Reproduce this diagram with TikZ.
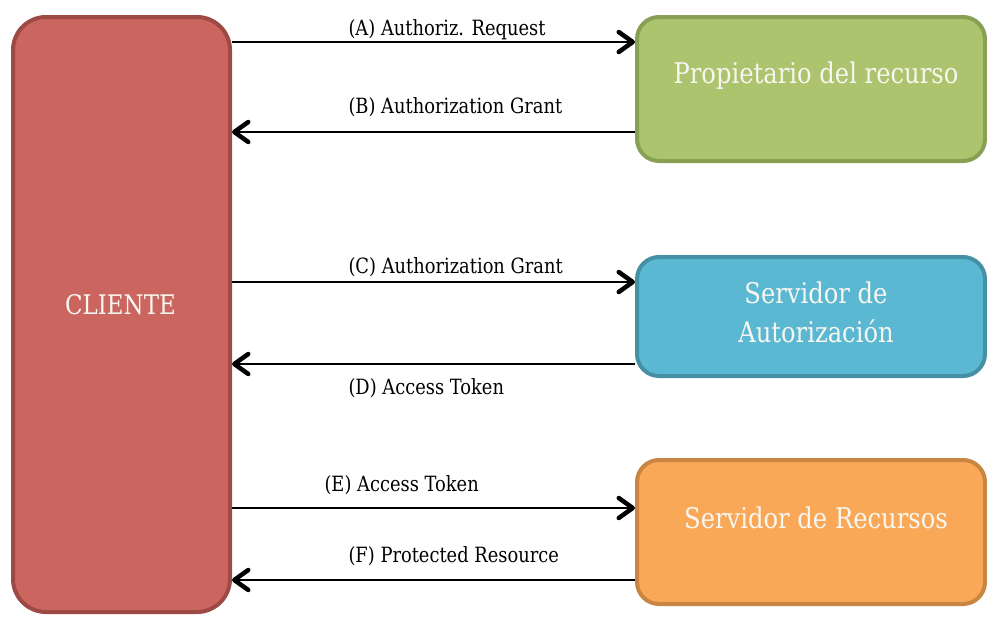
\documentclass[tikz,border=0pt]{standalone}
\usepackage{fontspec}
\setmainfont{DejaVu Serif}[FakeStretch=0.85]
\usetikzlibrary{arrows.meta}
\definecolor{clientfill}{HTML}{CB655F}
\definecolor{clientline}{HTML}{9D4A45}
\definecolor{ownerfill}{HTML}{ABC46D}
\definecolor{ownerline}{HTML}{87A053}
\definecolor{authfill}{HTML}{5BB8D2}
\definecolor{authline}{HTML}{4690A5}
\definecolor{resfill}{HTML}{F9A857}
\definecolor{resline}{HTML}{C98642}
\definecolor{boxtext}{HTML}{F8F6F0}

\begin{document}
\begin{tikzpicture}[x=1pt,y=-1pt,
  actor/.style={draw, line width=4pt, inner sep=0pt},
  boxlabel/.style={text=boxtext, font=\fontsize{28.5}{39}\selectfont, align=center, anchor=base},
  msg/.style={line width=2.5pt, -{Straight Barb[length=14pt,width=20pt,line width=4.5pt,round]}},
  msglabel/.style={font=\fontsize{21}{24}\selectfont, anchor=base west}]
\useasboundingbox (0,0) rectangle (987,616);

% boxes
\node[actor, fill=clientfill, draw=clientline, rounded corners=33pt, minimum width=217pt, minimum height=595pt] (client) at (121.5,314.5) {};
\node[actor, fill=ownerfill, draw=ownerline, rounded corners=22pt, minimum width=348pt, minimum height=144pt] (owner) at (811,89) {};
\node[actor, fill=authfill, draw=authline, rounded corners=22pt, minimum width=348pt, minimum height=119pt] (auth) at (811,316.5) {};
\node[actor, fill=resfill, draw=resline, rounded corners=22pt, minimum width=348pt, minimum height=144pt] (res) at (811,532) {};

% box texts
\node[boxlabel, font=\fontsize{27}{30}\selectfont] (clienttxt) at (120.5,314) {CLIENTE};
\node[boxlabel] (ownertxt) at (816,83) {Propietario del recurso};
\node[boxlabel] (authtxt) at (816,342) {Servidor de\\Autorización};
\node[boxlabel] (restxt) at (816,528) {Servidor de Recursos};

% messages
\draw[msg] (client.east |- 0,42) -- (owner.west |- 0,42);
\draw[msg] (owner.west |- 0,132) -- (client.east |- 0,132);
\draw[msg] (client.east |- 0,282) -- (auth.west |- 0,282);
\draw[msg] (auth.west |- 0,364) -- (client.east |- 0,364);
\draw[msg] (client.east |- 0,508) -- (res.west |- 0,508);
\draw[msg] (res.west |- 0,580) -- (client.east |- 0,580);

\node[msglabel] (lblA) at (345,35) {(A) Authoriz. Request};
\node[msglabel] (lblB) at (345,113) {(B) Authorization Grant};
\node[msglabel] (lblC) at (345,273) {(C) Authorization Grant};
\node[msglabel] (lblD) at (345,394) {(D) Access Token};
\node[msglabel] (lblE) at (321,491) {(E) Access Token};
\node[msglabel] (lblF) at (345,562) {(F) Protected Resource};
\end{tikzpicture}
\end{document}
